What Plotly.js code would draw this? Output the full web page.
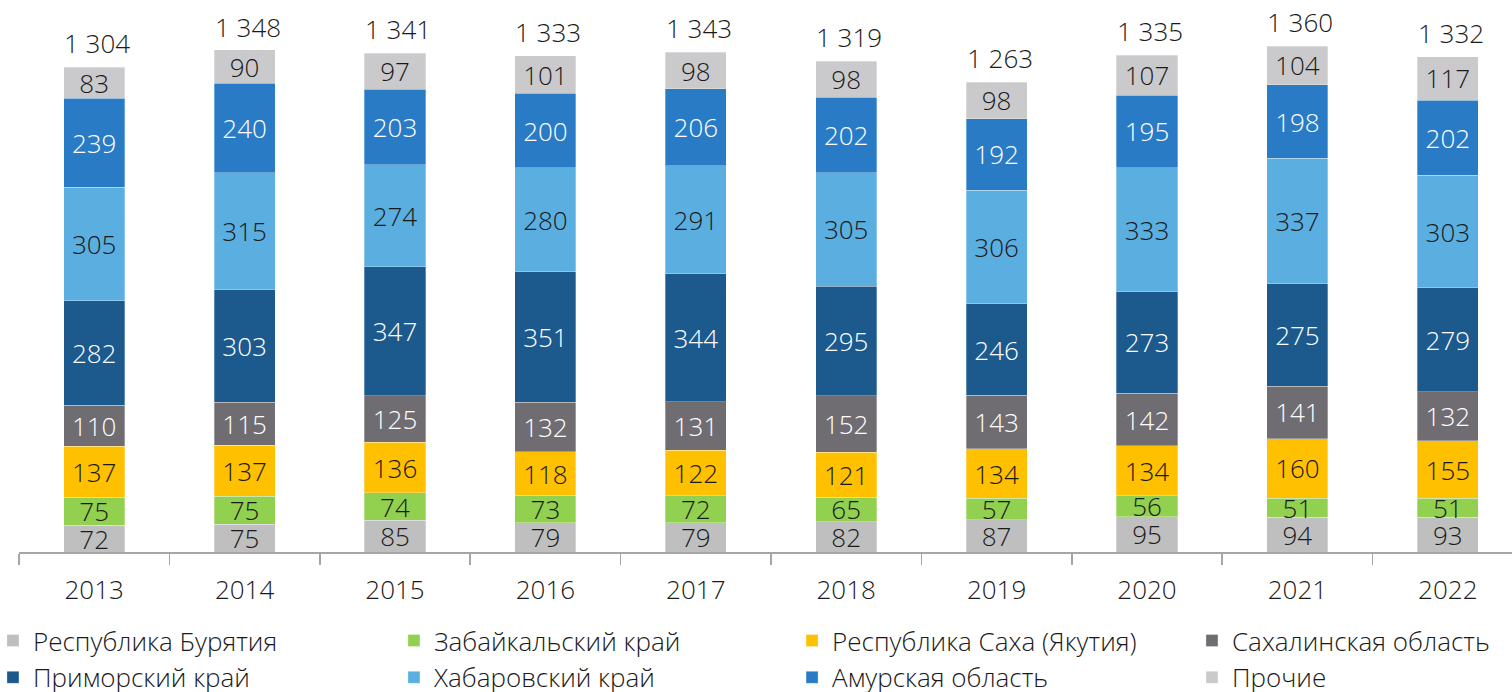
<!DOCTYPE html>
<html>
<head>
<meta charset="utf-8">
<script src="https://cdn.plot.ly/plotly-3.0.1.min.js"></script>
<style>
html,body{margin:0;padding:0;background:#fff;overflow:hidden;width:1512px;height:692px;}
#chart{width:1530px;height:692px;}
</style>
</head>
<body>
<div id="chart"></div>
<script>
var years = ['2013','2014','2015','2016','2017','2018','2019','2020','2021','2022'];
var buryatia   = [72, 75, 85, 79, 79, 82, 87, 95, 94, 93];
var zabaikal   = [75, 75, 74, 73, 72, 65, 57, 56, 51, 51];
var sakha      = [137, 137, 136, 118, 122, 121, 134, 134, 160, 155];
var sakhalin   = [110, 115, 125, 132, 131, 152, 143, 142, 141, 132];
var primorye   = [282, 303, 347, 351, 344, 295, 246, 273, 275, 279];
var khabarovsk = [305, 315, 274, 280, 291, 305, 306, 333, 337, 303];
var amur       = [239, 240, 203, 200, 206, 202, 192, 195, 198, 202];
var other      = [83, 90, 97, 101, 98, 98, 98, 107, 104, 117];
var totals     = [1304, 1348, 1341, 1333, 1343, 1319, 1263, 1335, 1360, 1332];

var seriesNames = ['Республика Бурятия','Забайкальский край','Республика Саха (Якутия)','Сахалинская область',
                   'Приморский край','Хабаровский край','Амурская область','Прочие'];
var seriesData = [buryatia, zabaikal, sakha, sakhalin, primorye, khabarovsk, amur, other];
var colors = ['#BFBFBF','#92D050','#FFC000','#6F6D72','#1C5A8E','#5BAEE0','#2A7BC6','#CACACC'];
var textColors = ['#1a1a1a','#1a1a1a','#1a1a1a','#ffffff','#ffffff','#1a1a1a','#ffffff','#1a1a1a'];
var legendIds = ['legend','legend2','legend3','legend4','legend','legend2','legend3','legend4'];

var FONT = 'Open Sans, Noto Sans, sans-serif';

var traces = seriesData.map(function(vals, i){
  return {
    type:'bar', name: seriesNames[i], x: years, y: vals,
    marker:{color: colors[i], line:{color:'rgba(255,255,255,0.5)', width:0.6}},
    text: vals.map(String), textposition:'inside', insidetextanchor:'middle',
    textangle:0, constraintext:'none',
    textfont:{family:FONT, size:26, color: textColors[i], weight:300},
    legend: legendIds[i], hoverinfo:'skip'
  };
});

function fmt(n){ var s = String(n); return s.length>3 ? s.slice(0,s.length-3)+' '+s.slice(-3) : s; }

// category axis: annotation x given as the category's serial number
var annotations = years.map(function(yr, i){
  return {x: i, y: totals[i], xref:'x', yref:'y', text: fmt(totals[i]), showarrow:false,
          yanchor:'bottom', yshift:4, xshift:3, font:{family:FONT, size:26, color:'#1a1a1a', weight:300}};
});

function leg(x){
  return {orientation:'v', x:x, xanchor:'left', y:-0.118, yanchor:'top',
          font:{family:FONT, size:26, color:'#1a1a1a', weight:300},
          bgcolor:'rgba(0,0,0,0)', tracegroupgap:0, traceorder:'normal'};
}

var layout = {
  width:1530, height:692,
  margin:{l:19, r:7, t:0, b:140, autoexpand:false},
  paper_bgcolor:'#fff', plot_bgcolor:'#fff',
  barmode:'stack', bargap:0.594,
  showlegend:true,
  legend: leg(-0.0173), legend2: leg(0.2493), legend3: leg(0.514), legend4: leg(0.7799),
  xaxis:{type:'category', categoryorder:'array', categoryarray: years, range:[-0.5, 9.5],
         showline:true, linecolor:'#A6A6A6', linewidth:1.5,
         ticks:'outside', tickson:'boundaries', ticklen:11, tickwidth:1.5, tickcolor:'#A6A6A6',
         tickangle:0, ticklabelstandoff:14,
         tickfont:{family:FONT, size:26, color:'#1a1a1a', weight:300}, showgrid:false, zeroline:false,
         fixedrange:true},
  yaxis:{range:[0,1484], visible:false, showgrid:false, zeroline:false, fixedrange:true},
  annotations: annotations
};

Plotly.newPlot('chart', traces, layout, {displayModeBar:false, staticPlot:true});
</script>
</body>
</html>
